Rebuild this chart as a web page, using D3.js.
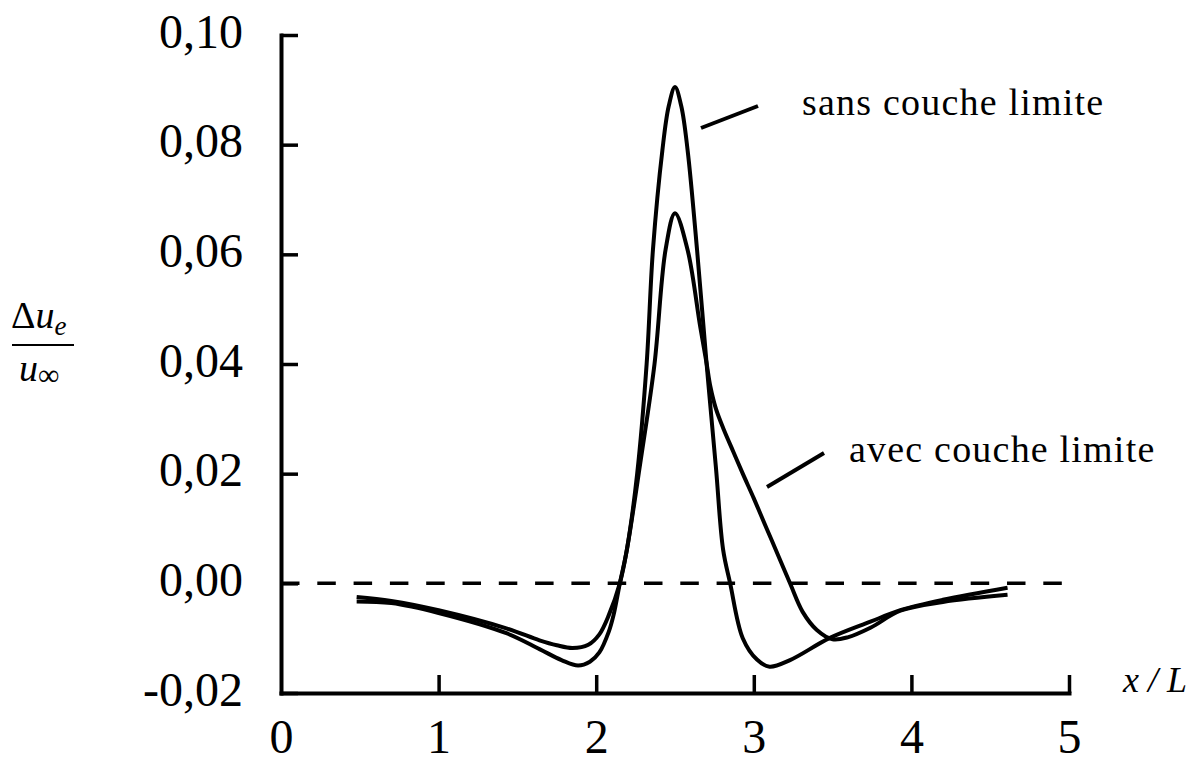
<!DOCTYPE html>
<html>
<head>
<meta charset="utf-8">
<script src="https://cdn.jsdelivr.net/npm/d3@7"></script>
<style>
  body { margin: 0; background: #fff; }
  text { font-family: "Liberation Serif", "Times New Roman", serif; fill: #000; }
</style>
</head>
<body>
<div id="chart"></div>
<script>
// values
const xTicks = [0, 1, 2, 3, 4, 5];
const yTicks = [-0.02, 0, 0.02, 0.04, 0.06, 0.08, 0.10];

const sansX = [0.48, 0.70, 1.00, 1.43, 1.64, 1.78, 1.885, 1.96, 2.02, 2.08, 2.11, 2.15, 2.195, 2.26, 2.32, 2.36, 2.42, 2.46, 2.50,
  2.54, 2.58, 2.64, 2.70, 2.76, 2.805, 2.85, 2.93, 3.02, 3.10, 3.23, 3.48, 3.74, 3.93, 4.20, 4.61];
const sansY = [-0.0033, -0.0036, -0.0054, -0.0091, -0.0120, -0.0140, -0.0150, -0.0143, -0.0126, -0.0088, -0.0058, 0.0, 0.0062, 0.020, 0.040, 0.0608, 0.079, 0.087, 0.0905,
  0.087, 0.079, 0.0608, 0.0402, 0.021, 0.0062, 0.0, -0.0100, -0.0139, -0.0152, -0.0140, -0.0100, -0.0070, -0.0049, -0.0030, -0.0008];

const avecX = [0.48, 0.70, 1.00, 1.43, 1.64, 1.75, 1.85, 1.95, 2.02, 2.08, 2.15, 2.195, 2.28, 2.37, 2.44, 2.50, 2.58, 2.66, 2.70,
  2.725, 2.76, 2.81, 2.87, 2.93, 3.00, 3.08, 3.15, 3.23, 3.31, 3.40, 3.50, 3.60, 3.74, 3.93, 4.20, 4.61];
const avecY = [-0.0025, -0.0032, -0.0049, -0.0082, -0.0104, -0.0113, -0.0118, -0.0112, -0.0093, -0.0058, 0.0, 0.0062, 0.022, 0.040, 0.0608, 0.0675, 0.0608, 0.0468, 0.0402,
  0.0358, 0.0318, 0.0280, 0.0240, 0.0200, 0.0155, 0.0101, 0.0054, 0.0, -0.0052, -0.0085, -0.0102, -0.0098, -0.0081, -0.0050, -0.0034, -0.0021];

const width = 1202, height = 762;
const margin = {left: 281, right: 133, top: 35, bottom: 69};

const svg = d3.select("#chart").append("svg")
    .attr("width", width)
    .attr("height", height);

const xScale = d3.scaleLinear().domain([0, 5]).range([margin.left, width - margin.right]);
const yScale = d3.scaleLinear().domain([-0.02, 0.10]).range([height - margin.bottom, margin.top]);

const fmt = d => d.toFixed(2).replace(".", ",");

// zero line, dashed
svg.append("line")
    .attr("x1", xScale(0))
    .attr("x2", xScale(4.96))
    .attr("y1", yScale(0))
    .attr("y2", yScale(0))
    .attr("stroke", "#000")
    .attr("stroke-width", 3.5)
    .attr("stroke-dasharray", "18.5,17.8");

// curves
const line = d3.line()
    .x(d => xScale(d[0]))
    .y(d => yScale(d[1]))
    .curve(d3.curveCatmullRom.alpha(0.5));

[d3.zip(sansX, sansY), d3.zip(avecX, avecY)].forEach(pts => {
  svg.append("path")
      .datum(pts)
      .attr("d", line)
      .attr("fill", "none")
      .attr("stroke", "#000")
      .attr("stroke-width", 4)
      .attr("stroke-linejoin", "round");
});

// Y axis, ticks pointing inwards
const yAxis = svg.append("g")
    .attr("transform", "translate(" + xScale(0) + ",0)")
    .call(d3.axisLeft(yScale).tickValues(yTicks).tickFormat(fmt)
        .tickSizeInner(-17).tickSizeOuter(0).tickPadding(38));

// X axis
const xAxis = svg.append("g")
    .attr("transform", "translate(0," + yScale(-0.02) + ")")
    .call(d3.axisBottom(xScale).tickValues(xTicks).tickFormat(d3.format("d"))
        .tickSizeInner(-18).tickSizeOuter(0).tickPadding(26));

[yAxis, xAxis].forEach(ax => {
  ax.select(".domain").attr("stroke", "#000").attr("stroke-width", 4).attr("stroke-linecap", "square");
  ax.selectAll(".tick line").attr("stroke", "#000").attr("stroke-width", 3.5);
  ax.selectAll(".tick text")
      .attr("font-family", "Liberation Serif, serif")
      .attr("font-size", 48)
      .attr("fill", "#000");
});
yAxis.selectAll(".tick text").attr("dy", "12");
xAxis.selectAll(".tick text").attr("dy", "0.71em");
xAxis.selectAll(".tick").filter(d => d === 0).select("line").remove();

// axis titles
svg.append("text")
    .attr("x", 1123)
    .attr("y", 692)
    .attr("font-size", 36)
    .attr("font-style", "italic")
    .text("x / L");

const yTitle = svg.append("g");
const num = yTitle.append("text")
    .attr("x", 11)
    .attr("y", 328)
    .attr("font-size", 38);
num.append("tspan").text("Δ");
num.append("tspan").attr("font-style", "italic").text("u");
num.append("tspan").attr("font-style", "italic").attr("font-size", 27).attr("dy", 7).text("e");
yTitle.append("line")
    .attr("x1", 12).attr("x2", 74)
    .attr("y1", 345).attr("y2", 345)
    .attr("stroke", "#000")
    .attr("stroke-width", 2);
const den = yTitle.append("text")
    .attr("x", 19)
    .attr("y", 381)
    .attr("font-size", 38);
den.append("tspan").attr("font-style", "italic").text("u");
den.append("tspan").attr("font-size", 30).attr("dy", 4).text("∞");

// curve annotations with leader lines
const notes = [
  {label: "sans couche limite", x: 802, y: 115, lx: [701, 758], ly: [128, 106]},
  {label: "avec couche limite", x: 849, y: 462, lx: [767, 824], ly: [487, 453]}
];
notes.forEach(n => {
  svg.append("line")
      .attr("x1", n.lx[0]).attr("y1", n.ly[0])
      .attr("x2", n.lx[1]).attr("y2", n.ly[1])
      .attr("stroke", "#000")
      .attr("stroke-width", 4);
  svg.append("text")
      .attr("x", n.x)
      .attr("y", n.y)
      .attr("font-size", 38)
      .attr("letter-spacing", 1.2)
      .text(n.label);
});
</script>
</body>
</html>
